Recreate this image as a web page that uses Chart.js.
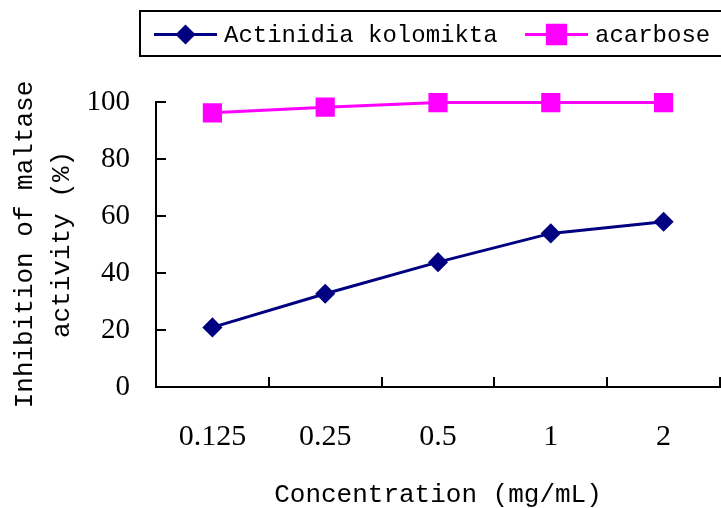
<!DOCTYPE html>
<html><head><meta charset="utf-8">
<script src="https://cdn.jsdelivr.net/npm/chart.js@4"></script>
<style>html,body{margin:0;padding:0;background:#fff;overflow:hidden}</style>
</head><body>
<canvas id="c" width="721" height="508" style="display:block;width:721px;height:508px"></canvas>
<script>
const categories = ['0.125', '0.25', '0.5', '1', '2'];
const actinidiaValues = [20.9, 32.7, 43.8, 53.9, 58.0];
const acarboseValues = [96.2, 98.2, 99.8, 99.8, 99.8];
const seriesNames = ['Actinidia kolomikta', 'acarbose'];
const xTitle = 'Concentration (mg/mL)';
const yTitle = ['Inhibition of maltase', 'activity (%)'];
const yMin = 0, yMax = 100, yStep = 20;

const MONO = '"Liberation Mono", "DejaVu Sans Mono", monospace';
const SERIF = '"Liberation Serif", "DejaVu Serif", serif';

const boxedLegend = {
  id: 'boxedLegend',
  afterDraw(chart) {
    const ctx = chart.ctx;
    ctx.save();
    ctx.strokeStyle = '#000';
    ctx.lineWidth = 2;
    ctx.strokeRect(140, 11, 640, 45);
    const slots = [{x: 154, tx: 224}, {x: 525, tx: 595}];
    const y = 34.5;
    chart.data.datasets.forEach((ds, i) => {
      const s = slots[i];
      ctx.strokeStyle = ds.borderColor;
      ctx.lineWidth = ds.borderWidth;
      ctx.beginPath();
      ctx.moveTo(s.x, y);
      ctx.lineTo(s.x + 63, y);
      ctx.stroke();
      ctx.fillStyle = ds.pointBackgroundColor;
      ctx.strokeStyle = ds.pointBorderColor;
      ctx.lineWidth = ds.pointBorderWidth;
      Chart.helpers.drawPoint(ctx, {pointStyle: ds.pointStyle, radius: ds.pointRadius + (i === 1 ? 1.5 : 0), borderWidth: ds.pointBorderWidth, rotation: 0}, s.x + 31.5, y);
      ctx.fillStyle = '#000';
      ctx.font = '24px ' + MONO;
      ctx.textBaseline = 'middle';
      ctx.textAlign = 'left';
      ctx.fillText(ds.label, s.tx, y + 1);
    });
    ctx.restore();
  }
};

new Chart(document.getElementById('c'), {
  type: 'line',
  data: {
    labels: categories,
    datasets: [
      {
        label: seriesNames[0],
        data: actinidiaValues,
        borderColor: '#000080',
        backgroundColor: '#000080',
        borderWidth: 3,
        pointStyle: 'rectRot',
        pointRadius: 9,
        pointBorderWidth: 1.5,
        pointBackgroundColor: '#000080',
        pointBorderColor: '#000080',
        tension: 0,
        clip: false
      },
      {
        label: seriesNames[1],
        data: acarboseValues,
        borderColor: '#FF00FF',
        backgroundColor: '#FF00FF',
        borderWidth: 3,
        pointStyle: 'rect',
        pointRadius: 12.5,
        pointBorderWidth: 1.5,
        pointBackgroundColor: '#FF00FF',
        pointBorderColor: '#FF00FF',
        tension: 0,
        clip: false
      }
    ]
  },
  options: {
    responsive: false,
    animation: false,
    devicePixelRatio: 1,
    layout: {autoPadding: false, padding: {top: 102, right: 1, left: 0, bottom: 0}},
    plugins: {
      legend: {display: false},
      title: {display: false},
      tooltip: {enabled: false}
    },
    scales: {
      x: {
        type: 'category',
        offset: true,
        afterFit(scale) { scale.height = 121; scale.paddingLeft = 0; scale.paddingRight = 0; },
        grid: {offset: true, drawOnChartArea: false, drawTicks: true, tickLength: -10, color: '#000', lineWidth: 2},
        border: {color: '#000', width: 2},
        ticks: {color: '#000', padding: 42, font: {family: SERIF, size: 30, lineHeight: 1.2}, maxRotation: 0, autoSkip: false},
        title: {display: true, text: xTitle, color: '#000', font: {family: MONO, size: 26, lineHeight: 1}, padding: {top: 10, bottom: 0}}
      },
      y: {
        min: yMin, max: yMax,
        afterFit(scale) { scale.width = 156; },
        grid: {drawOnChartArea: false, drawTicks: true, tickLength: -10, color: '#000', lineWidth: 2},
        border: {color: '#000', width: 2},
        ticks: {stepSize: yStep, color: '#000', padding: 36, font: {family: SERIF, size: 29}},
        title: {display: true, text: yTitle, color: '#000', font: {family: MONO, size: 26, lineHeight: 1.42}, padding: {top: 7, bottom: 6}}
      }
    }
  },
  plugins: [boxedLegend]
});
</script>
</body></html>
